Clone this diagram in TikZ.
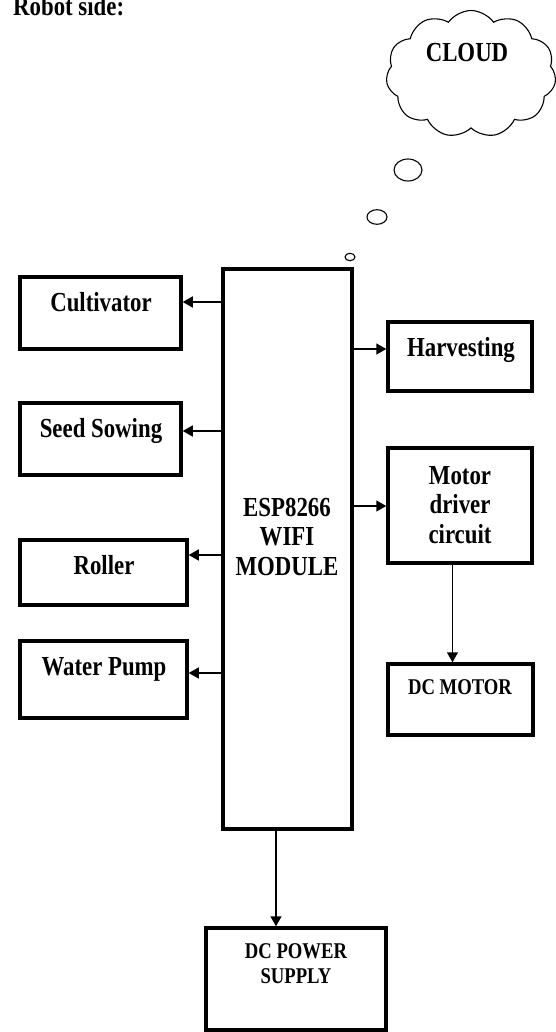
\documentclass[tikz,border=0pt]{standalone}
\usepackage{fontspec}
\setmainfont[FakeStretch=0.83]{Liberation Serif}
\usetikzlibrary{arrows.meta,shapes.geometric,shapes.symbols}
\begin{document}
\begin{tikzpicture}[x=1pt,y=-1pt,
  box/.style={draw, line width=3.5pt, inner sep=0pt, rectangle},
  lbl/.style={anchor=base, inner sep=0pt, font=\bfseries\fontsize{27.5}{29.5}\selectfont, align=center},
  slbl/.style={anchor=base, inner sep=0pt, font=\bfseries\fontsize{22.5}{25}\selectfont, align=center},
  arr/.style={line width=1.5pt, -{Triangle[length=10pt,width=11pt]}},
  bubble/.style={draw, ellipse, line width=1.1pt, inner sep=0pt}]
\useasboundingbox (0,0) rectangle (556,1032);

\node[lbl, anchor=base west] (title) at (13,16) {Robot side:};

% cloud and bubbles
\node[draw, cloud, cloud puffs=11, cloud puff arc=110, aspect=1.35, line width=1.1pt,
      inner sep=0pt, minimum width=170pt, minimum height=127pt] (cloud) at (471,74) {};
\node[lbl] (cloudlbl) at (467,62) {CLOUD};
\node[bubble, minimum width=28pt, minimum height=22pt] (b1) at (408,170) {};
\node[bubble, minimum width=20pt, minimum height=14.6pt] (b2) at (377,217) {};
\node[bubble, minimum width=10pt, minimum height=7.4pt] (b3) at (350,257) {};

% boxes
\node[box, minimum width=161pt, minimum height=72pt] (cult) at (100.5,313) {};
\node[lbl] (cultlbl) at (101,311) {Cultivator};
\node[box, minimum width=161pt, minimum height=72pt] (seed) at (100.5,439) {};
\node[lbl] (seedlbl) at (101,437) {Seed Sowing};
\node[box, minimum width=167pt, minimum height=65pt] (roll) at (103.5,572.5) {};
\node[lbl] (rolllbl) at (104,574) {Roller};
\node[box, minimum width=167pt, minimum height=77pt] (pump) at (103.5,679.5) {};
\node[lbl] (pumplbl) at (104,675) {Water Pump};

\node[box, minimum width=129pt, minimum height=560pt] (esp) at (287.5,549) {};
\node[lbl] (esplbl) at (287,575) {ESP8266\\WIFI\\MODULE};

\node[box, minimum width=144pt, minimum height=69pt] (harv) at (460,356.5) {};
\node[lbl] (harvlbl) at (461,356) {Harvesting};
\node[box, minimum width=144pt, minimum height=115pt] (motor) at (460,505.5) {};
\node[lbl] (motorlbl) at (460,543) {Motor\\driver\\circuit};
\node[box, minimum width=145pt, minimum height=71pt] (dcm) at (460.5,699.5) {};
\node[slbl] (dcmlbl) at (460,694) {DC MOTOR};

\node[box, minimum width=180pt, minimum height=102pt] (pow) at (296,979) {};
\node[slbl] (powlbl) at (296,983) {DC POWER\\SUPPLY};

% connectors
\draw[arr] (esp.west |- 0,302) -- (cult.east |- 0,302);
\draw[arr] (esp.west |- 0,431) -- (seed.east |- 0,431);
\draw[arr] (esp.west |- 0,555) -- (roll.east |- 0,555);
\draw[arr] (esp.west |- 0,673) -- (pump.east |- 0,673);
\draw[arr] (esp.east |- 0,349) -- (harv.west |- 0,349);
\draw[arr] (esp.east |- 0,506) -- (motor.west |- 0,506);
\draw[arr] (motor.south -| 452.5,0) -- (dcm.north -| 452.5,0);
\draw[arr] (esp.south -| 276,0) -- (pow.north -| 276,0);
\end{tikzpicture}
\end{document}
